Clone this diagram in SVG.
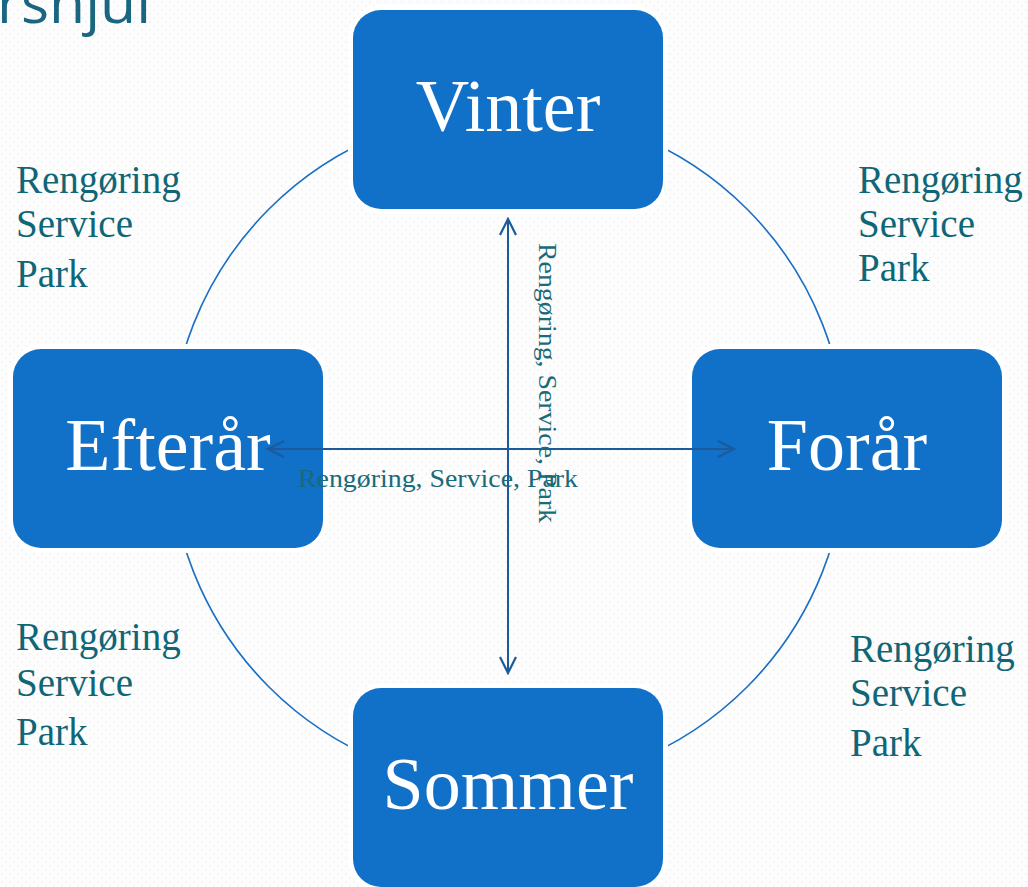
<svg xmlns="http://www.w3.org/2000/svg" width="1028" height="887" viewBox="0 0 1028 887">
<defs>
<pattern id="dots" width="8" height="8" patternUnits="userSpaceOnUse">
<rect width="8" height="8" fill="#fdfdfd"/>
<circle cx="2" cy="2" r="1" fill="#f2f2f2"/>
<circle cx="6" cy="6" r="1" fill="#f2f2f2"/>
</pattern>
<marker id="open" viewBox="0 0 20 20" refX="18" refY="10" markerWidth="20" markerHeight="20" markerUnits="userSpaceOnUse" orient="auto-start-reverse">
<path d="M2,2 L18,10 L2,18" fill="none" stroke="#1c5a9c" stroke-width="2.2"/>
</marker>
<style>
.box{fill:#1170c8;stroke:#ffffff;stroke-width:10;paint-order:stroke}
.season{font-family:"Liberation Serif","Times New Roman",serif;font-size:74px;fill:#ffffff;text-anchor:middle}
.lbl{font-family:"Liberation Serif","Times New Roman",serif;font-size:39px;fill:#0f6677}
.mid{font-family:"Liberation Serif","Times New Roman",serif;font-size:26px;fill:#1a6a7a}
.arc{fill:none;stroke:#1a6fc4;stroke-width:1.6}
.conn{stroke:#1c5a9c;stroke-width:2;fill:none}
</style>
</defs>
<rect width="1028" height="887" fill="url(#dots)"/>
<text x="-3" y="23" font-family="'Open Sans','Noto Sans',sans-serif" font-size="56" fill="#1a6680" textLength="154" lengthAdjust="spacingAndGlyphs">rshjul</text>
<circle class="arc" cx="508" cy="448" r="338"/>
<g id="vinter"><rect class="box" x="353" y="10" width="310" height="199" rx="28"/><text class="season" x="508" y="131">Vinter</text></g>
<g id="efteraar"><rect class="box" x="13" y="349" width="310" height="199" rx="28"/><text class="season" x="168" y="470">Efterår</text></g>
<g id="foraar"><rect class="box" x="692" y="349" width="310" height="199" rx="28"/><text class="season" x="847" y="470">Forår</text></g>
<g id="sommer"><rect class="box" x="353" y="688" width="310" height="199" rx="28"/><text class="season" x="508" y="809">Sommer</text></g>
<g id="connectors">
<line class="conn" x1="508" y1="219" x2="508" y2="673" marker-start="url(#open)" marker-end="url(#open)"/>
<line class="conn" x1="268" y1="449" x2="734" y2="449" marker-start="url(#open)" marker-end="url(#open)"/>
</g>
<text class="mid" x="298" y="487" textLength="280" lengthAdjust="spacingAndGlyphs">Rengøring, Service, Park</text>
<text class="mid" transform="translate(539,243) rotate(90)" x="0" y="0" textLength="280" lengthAdjust="spacingAndGlyphs">Rengøring, Service, Park</text>
<g id="tl"><text class="lbl" x="16" y="193">Rengøring</text><text class="lbl" x="16" y="237">Service</text><text class="lbl" x="16" y="287">Park</text></g>
<g id="tr"><text class="lbl" x="858" y="193">Rengøring</text><text class="lbl" x="858" y="237">Service</text><text class="lbl" x="858" y="281">Park</text></g>
<g id="bl"><text class="lbl" x="16" y="650">Rengøring</text><text class="lbl" x="16" y="696">Service</text><text class="lbl" x="16" y="745">Park</text></g>
<g id="br"><text class="lbl" x="850" y="662">Rengøring</text><text class="lbl" x="850" y="706">Service</text><text class="lbl" x="850" y="756">Park</text></g>
</svg>
